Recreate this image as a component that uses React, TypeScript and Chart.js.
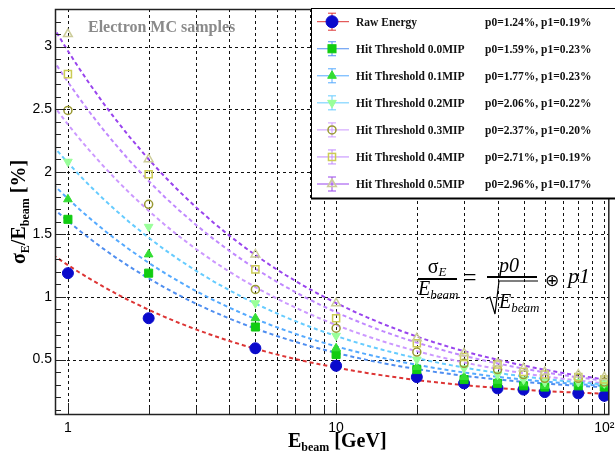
import React, { useEffect, useRef } from 'react';
import { Chart, registerables } from 'chart.js';

Chart.register(...registerables);

// ---------------- data ----------------
const ENERGY = [1, 2, 5, 10, 20, 30, 40, 50, 60, 80, 100];
const RAW_ENERGY = [1.19, 0.83, 0.59, 0.45, 0.36, 0.31, 0.27, 0.26, 0.24, 0.23, 0.21];
const HIT_00 = [1.62, 1.19, 0.76, 0.54, 0.42, 0.34, 0.31, 0.29, 0.28, 0.29, 0.28];
const HIT_01 = [1.78, 1.34, 0.83, 0.59, 0.44, 0.36, 0.33, 0.31, 0.29, 0.31, 0.3];
const HIT_02 = [2.08, 1.56, 0.95, 0.69, 0.5, 0.43, 0.38, 0.34, 0.32, 0.32, 0.31];
const HIT_03 = [2.49, 1.74, 1.06, 0.75, 0.56, 0.47, 0.42, 0.38, 0.35, 0.35, 0.32];
const HIT_04 = [2.78, 1.98, 1.22, 0.83, 0.63, 0.52, 0.46, 0.4, 0.38, 0.36, 0.34];
const HIT_05 = [3.1, 2.1, 1.34, 0.95, 0.67, 0.55, 0.47, 0.43, 0.4, 0.38, 0.36];

const SERIES_NAMES = [
  'Raw Energy',
  'Hit Threshold 0.0MIP',
  'Hit Threshold 0.1MIP',
  'Hit Threshold 0.2MIP',
  'Hit Threshold 0.3MIP',
  'Hit Threshold 0.4MIP',
  'Hit Threshold 0.5MIP',
];
const SERIES_VALUES = [RAW_ENERGY, HIT_00, HIT_01, HIT_02, HIT_03, HIT_04, HIT_05];

// fit parameters (from legend), in %
const P0 = [1.24, 1.59, 1.77, 2.06, 2.37, 2.71, 2.96];
const P1 = [0.19, 0.23, 0.23, 0.22, 0.2, 0.19, 0.17];
const FIT_LABELS = [
  'p0=1.24%, p1=0.19%',
  'p0=1.59%, p1=0.23%',
  'p0=1.77%, p1=0.23%',
  'p0=2.06%, p1=0.22%',
  'p0=2.37%, p1=0.20%',
  'p0=2.71%, p1=0.19%',
  'p0=2.96%, p1=0.17%',
];
// energies at which the fit function is sampled for drawing
const FIT_X = [0.88, 0.95, 1, 1.1, 1.2, 1.35, 1.5, 1.7, 2, 2.3, 2.6, 3, 3.5, 4, 4.5, 5, 5.7, 6.5, 7.5, 8.5, 10,
  11.5, 13, 15, 17.5, 20, 23, 27, 31, 36, 42, 48, 55, 63, 72, 82, 92, 100, 105];

// axes
const X_MIN = 0.895;
const X_MAX = 103.5;
const Y_MIN = 0.065;
const Y_MAX = 3.3;
const X_GRID = [1, 2, 3, 4, 5, 6, 7, 8, 9, 10, 20, 30, 40, 50, 60, 70, 80, 90, 100];
const X_LABEL_VALUES = [1, 10, 100];
const X_LABEL_TEXT = ['1', '10', '10²'];
const Y_GRID = [0.5, 1, 1.5, 2, 2.5, 3];
const Y_LABEL_TEXT = ['0.5', '1', '1.5', '2', '2.5', '3'];
const Y_MINOR = [0.1, 0.2, 0.3, 0.4, 0.6, 0.7, 0.8, 0.9, 1.1, 1.2, 1.3, 1.4, 1.6, 1.7, 1.8, 1.9, 2.1, 2.2, 2.3,
  2.4, 2.6, 2.7, 2.8, 2.9, 3.1, 3.2];

// ---------------- styles ----------------
type Style = { line: string; shape: string; r: number; fill: string; stroke: string; bw: number; rot: number };
const STYLES: Style[] = [
  { line: '#dd3535', shape: 'circle', r: 5.5, fill: '#0a0acc', stroke: '#0a0acc', bw: 1, rot: 0 },
  { line: '#4f8ef0', shape: 'rect', r: 5.7, fill: '#11cc11', stroke: '#11cc11', bw: 1, rot: 0 },
  { line: '#55aaff', shape: 'triangle', r: 5, fill: '#33dd33', stroke: '#33dd33', bw: 1, rot: 0 },
  { line: '#66ccff', shape: 'triangle', r: 5, fill: '#99ff99', stroke: '#99ff99', bw: 1, rot: 180 },
  { line: '#cc99ff', shape: 'circle', r: 4, fill: 'rgba(0,0,0,0)', stroke: '#999933', bw: 1.5, rot: 0 },
  { line: '#c088ff', shape: 'rect', r: 5, fill: 'rgba(0,0,0,0)', stroke: '#cccc55', bw: 1.5, rot: 0 },
  { line: '#9944ee', shape: 'triangle', r: 5, fill: 'rgba(0,0,0,0)', stroke: '#cccc99', bw: 1.5, rot: 0 },
];

const fitValue = (e: number, p0: number, p1: number) => Math.sqrt((p0 * p0) / e + p1 * p1);

const framePlugin = {
  id: 'rootFrame',
  beforeDatasetsDraw(chart: any) {
    const { ctx, chartArea: a, scales } = chart;
    const xs = scales.x;
    const ys = scales.y;
    ctx.save();
    ctx.strokeStyle = '#111';
    ctx.lineWidth = 1;
    ctx.setLineDash([3, 3]);
    ctx.beginPath();
    X_GRID.forEach((v) => {
      const px = Math.round(xs.getPixelForValue(v)) + 0.5;
      ctx.moveTo(px, a.bottom);
      ctx.lineTo(px, a.top);
    });
    Y_GRID.forEach((v) => {
      const py = Math.round(ys.getPixelForValue(v)) + 0.5;
      ctx.moveTo(a.left, py);
      ctx.lineTo(a.right, py);
    });
    ctx.stroke();
    ctx.restore();
  },
  afterDatasetsDraw(chart: any) {
    const { ctx, chartArea: a, scales } = chart;
    const xs = scales.x;
    const ys = scales.y;
    ctx.save();
    ctx.setLineDash([]);
    ctx.strokeStyle = '#222';
    ctx.lineWidth = 1;
    ctx.beginPath();
    Y_MINOR.forEach((v) => {
      const py = Math.round(ys.getPixelForValue(v)) + 0.5;
      ctx.moveTo(a.left, py);
      ctx.lineTo(a.left + 6, py);
    });
    Y_GRID.forEach((v) => {
      const py = Math.round(ys.getPixelForValue(v)) + 0.5;
      ctx.moveTo(a.left, py);
      ctx.lineTo(a.left + 11, py);
    });
    X_GRID.forEach((v) => {
      const px = Math.round(xs.getPixelForValue(v)) + 0.5;
      const len = X_LABEL_VALUES.includes(v) ? 11 : 7;
      ctx.moveTo(px, a.bottom);
      ctx.lineTo(px, a.bottom - len);
    });
    ctx.stroke();
    ctx.lineWidth = 1.5;
    ctx.strokeRect(a.left + 0.5, a.top + 0.5, a.right - a.left, a.bottom - a.top);
    ctx.restore();
  },
};

function legendMarker(s: Style, cx: number, cy: number, key: string) {
  const common = { fill: s.fill, stroke: s.stroke, strokeWidth: s.bw };
  if (s.shape === 'circle') return <circle key={key} cx={cx} cy={cy} r={s.r} {...common} />;
  if (s.shape === 'rect') {
    const h = s.r * Math.SQRT1_2;
    return <rect key={key} x={cx - h} y={cy - h} width={2 * h} height={2 * h} {...common} />;
  }
  const pts: string[] = [];
  for (let k = 0; k < 3; k++) {
    const ang = ((s.rot + k * 120) * Math.PI) / 180;
    pts.push(`${cx + Math.sin(ang) * s.r},${cy - Math.cos(ang) * s.r}`);
  }
  return <polygon key={key} points={pts.join(' ')} {...common} />;
}

export default function App() {
  const canvasRef = useRef<HTMLCanvasElement | null>(null);

  useEffect(() => {
    if (!canvasRef.current) return;
    const fitSets = P0.map((p0, i) => ({
      label: 'fit ' + SERIES_NAMES[i],
      data: FIT_X.map((e) => ({ x: e, y: fitValue(e, p0, P1[i]) })),
      showLine: true,
      borderColor: STYLES[i].line,
      borderWidth: 2,
      borderDash: [4, 3],
      pointRadius: 0,
      tension: 0,
      fill: false,
      order: 20 + i,
    }));
    const pointSets = SERIES_VALUES.map((vals, i) => ({
      label: SERIES_NAMES[i],
      data: ENERGY.map((e, k) => ({ x: e, y: vals[k] })),
      showLine: false,
      pointStyle: STYLES[i].shape,
      pointRadius: STYLES[i].r,
      pointBackgroundColor: STYLES[i].fill,
      pointBorderColor: STYLES[i].stroke,
      pointBorderWidth: STYLES[i].bw,
      pointRotation: STYLES[i].rot,
      order: 10 - i,
    }));

    const chart = new Chart(canvasRef.current, {
      type: 'scatter',
      data: { datasets: [...fitSets, ...pointSets] as any },
      plugins: [framePlugin],
      options: {
        animation: false,
        responsive: false,
        devicePixelRatio: 1,
        layout: { padding: { top: 9, right: 3, left: 0, bottom: 0 } },
        plugins: { legend: { display: false }, tooltip: { enabled: false } },
        scales: {
          x: {
            type: 'logarithmic',
            min: X_MIN,
            max: X_MAX,
            afterBuildTicks: (s: any) => {
              s.ticks = X_GRID.map((v) => ({ value: v }));
            },
            afterFit: (s: any) => {
              s.height = 42;
              s.paddingLeft = 0;
              s.paddingRight = 0;
            },
            ticks: {
              autoSkip: false,
              maxRotation: 0,
              padding: 6,
              color: '#000',
              font: { family: 'Liberation Sans', size: 14 },
              callback: (v: any) => {
                const k = X_LABEL_VALUES.indexOf(Number(v));
                return k >= 0 ? X_LABEL_TEXT[k] : '';
              },
            },
            grid: { display: false, drawTicks: false },
            border: { display: false },
          },
          y: {
            type: 'linear',
            min: Y_MIN,
            max: Y_MAX,
            afterBuildTicks: (s: any) => {
              s.ticks = Y_GRID.map((v) => ({ value: v }));
            },
            afterFit: (s: any) => {
              s.width = 55;
              s.paddingTop = 0;
              s.paddingBottom = 0;
            },
            ticks: {
              padding: 3,
              color: '#000',
              font: { family: 'Liberation Sans', size: 14 },
              callback: (v: any) => {
                const k = Y_GRID.indexOf(Number(v));
                return k >= 0 ? Y_LABEL_TEXT[k] : '';
              },
            },
            grid: { display: false, drawTicks: false },
            border: { display: false },
          },
        },
      } as any,
    });
    return () => chart.destroy();
  }, []);

  const serif = 'Liberation Serif';
  const legendTop = 21.7;
  const legendStep = 27.05;

  return (
    <div style={{ position: 'fixed', left: 0, top: 0, width: 615, height: 456, background: '#fff' }}>
      <canvas ref={canvasRef} width={615} height={456} style={{ position: 'absolute', left: 0, top: 0, width: 615, height: 456 }} />
      <svg width={615} height={456} style={{ position: 'absolute', left: 0, top: 0, pointerEvents: 'none' }}>
        {/* sample label */}
        <text x={88} y={32} fontFamily={serif} fontWeight="bold" fontSize={16} fill="#8a8a8a">Electron MC samples</text>

        {/* axis titles */}
        <text transform="translate(25,212) rotate(-90)" textAnchor="middle" fontFamily={serif} fontWeight="bold" fontSize={20} fill="#000">
          σ<tspan fontSize={12} dy={4}>E</tspan><tspan dy={-4}>/E</tspan><tspan fontSize={12} dy={4}>beam</tspan><tspan dy={-4}> [%]</tspan>
        </text>
        <text x={288} y={447} fontFamily={serif} fontWeight="bold" fontSize={20} fill="#000">
          E<tspan fontSize={12} dy={4}>beam</tspan><tspan dy={-4}> [GeV]</tspan>
        </text>

        {/* formula */}
        <text x={437} y={273} textAnchor="middle" fontFamily={serif} fontSize={20} fill="#000">
          σ<tspan fontSize={13} fontStyle="italic" dy={3}>E</tspan>
        </text>
        <line x1={418} x2={457} y1={279} y2={279} stroke="#000" strokeWidth={2} />
        <text x={418} y={295} fontFamily={serif} fontStyle="italic" fontSize={20} fill="#000">
          E<tspan fontSize={13} dy={4}>beam</tspan>
        </text>
        <text x={463} y={285} fontFamily={serif} fontSize={24} fill="#000">=</text>
        <text x={509} y={272} textAnchor="middle" fontFamily={serif} fontStyle="italic" fontSize={20} fill="#000">p0</text>
        <line x1={487} x2={537} y1={277} y2={277} stroke="#000" strokeWidth={2} />
        <path d="M486 299 L490 297 L495 314 L499 281 L538 281" fill="none" stroke="#000" strokeWidth={1.2} />
        <text x={499} y={308} fontFamily={serif} fontStyle="italic" fontSize={20} fill="#000">
          E<tspan fontSize={13} dy={4}>beam</tspan>
        </text>
        <text x={552} y={286} textAnchor="middle" fontFamily="DejaVu Sans" fontSize={17} fill="#000">⊕</text>
        <text x={568} y={283} fontFamily={serif} fontStyle="italic" fontSize={22} fill="#000">p1</text>

        {/* legend */}
        <rect x={311.5} y={8.5} width={304} height={190} fill="#fff" stroke="#000" strokeWidth={1} />
        <line x1={311} x2={615} y1={198.5} y2={198.5} stroke="#000" strokeWidth={2} />
        {SERIES_NAMES.map((name, i) => {
          const cy = legendTop + legendStep * i;
          const s = STYLES[i];
          const eb = i === 0 ? 8.5 : 7;
          return (
            <g key={name}>
              <line x1={317} x2={349} y1={cy} y2={cy} stroke={s.line} strokeWidth={1} />
              <line x1={332} x2={332} y1={cy - eb} y2={cy + eb} stroke={s.line} strokeWidth={1} />
              <line x1={328} x2={336} y1={cy - eb} y2={cy - eb} stroke={s.line} strokeWidth={1} />
              <line x1={328} x2={336} y1={cy + eb} y2={cy + eb} stroke={s.line} strokeWidth={1} />
              {legendMarker(i === 0 ? { ...s, r: 6 } : s, 332, cy, 'm' + i)}
              <text x={356} y={cy + 4} fontFamily={serif} fontWeight="bold" fontSize={11.5} fill="#111">{name}</text>
              <text x={485} y={cy + 4} fontFamily={serif} fontWeight="bold" fontSize={11.5} fill="#111">{FIT_LABELS[i]}</text>
            </g>
          );
        })}
      </svg>
    </div>
  );
}
